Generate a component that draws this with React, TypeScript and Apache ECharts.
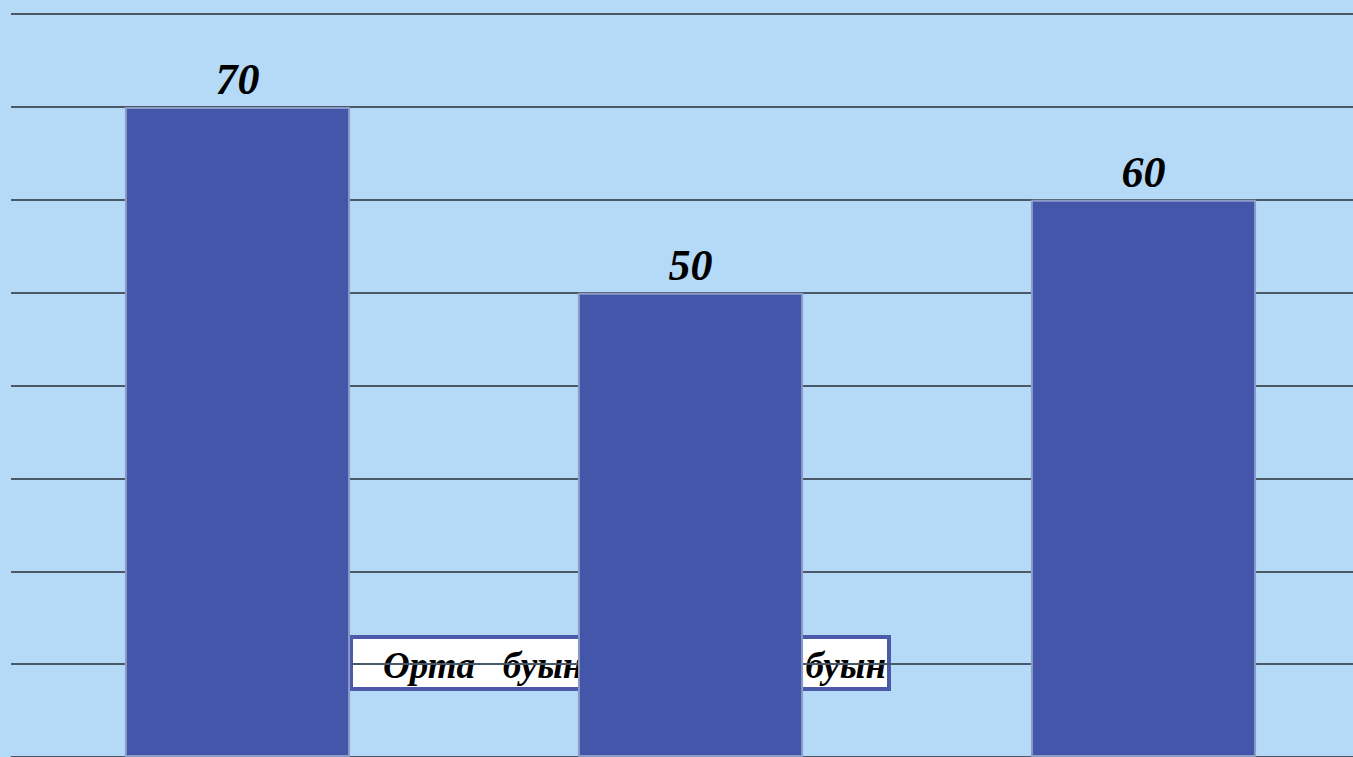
import React, { useEffect, useRef } from "react";
import * as echarts from "echarts";

const categories = ["Кіші буын", "Орта буын", "Жоғары буын"];
const values = [70, 50, 60];
const yMin = 0;
const yMax = 80;
const yStep = 10;
const boxTextLeft = "Орта   буын";
const boxTextRight = "буын";

export default function App() {
  const ref = useRef<HTMLDivElement>(null);
  useEffect(() => {
    const chart = echarts.init(ref.current!, null, { renderer: "svg" });
    const boxFont = "italic bold 37px 'Liberation Serif', serif";
    chart.setOption({
      animation: false,
      backgroundColor: "#B4DAF8",
      grid: { left: 11, right: 0, top: 14, bottom: 0 },
      xAxis: {
        type: "category",
        data: categories,
        axisLine: { show: true, lineStyle: { color: "#8f9fb3", width: 2 } },
        axisTick: { show: false },
        axisLabel: { show: false },
        splitLine: { show: false },
      },
      yAxis: {
        type: "value",
        min: yMin,
        max: yMax,
        interval: yStep,
        z: 1,
        axisLabel: { show: false },
        axisLine: { show: false },
        axisTick: { show: false },
        splitLine: { show: true, lineStyle: { color: "#4a5868", width: 2 } },
      },
      series: [
        {
          type: "bar",
          data: values,
          barWidth: "49.7%",
          z: 3,
          itemStyle: { color: "#4356A9", borderColor: "#8c9cc6", borderWidth: 2 },
          label: {
            show: true,
            position: "top",
            distance: 5,
            color: "#000",
            fontFamily: "'Liberation Serif', serif",
            fontWeight: "bold",
            fontStyle: "italic",
            fontSize: 44,
          },
        },
      ],
      graphic: [
        {
          type: "rect",
          z: -1,
          shape: { x: 351, y: 637, width: 538, height: 52 },
          style: { fill: "#ffffff", stroke: "#4a5aa8", lineWidth: 4 },
        },
        {
          type: "text",
          z: -1,
          x: 383,
          y: 665,
          style: {
            text: boxTextLeft,
            fill: "#000",
            font: boxFont,
            verticalAlign: "middle",
            align: "left",
          },
        },
        {
          type: "text",
          z: -1,
          x: 886,
          y: 665,
          style: {
            text: boxTextRight,
            fill: "#000",
            font: boxFont,
            verticalAlign: "middle",
            align: "right",
          },
        },
      ],
    });
    return () => chart.dispose();
  }, []);
  return (
    <div
      ref={ref}
      style={{ position: "fixed", left: 0, top: 0, width: 1370, height: 757 }}
    />
  );
}
